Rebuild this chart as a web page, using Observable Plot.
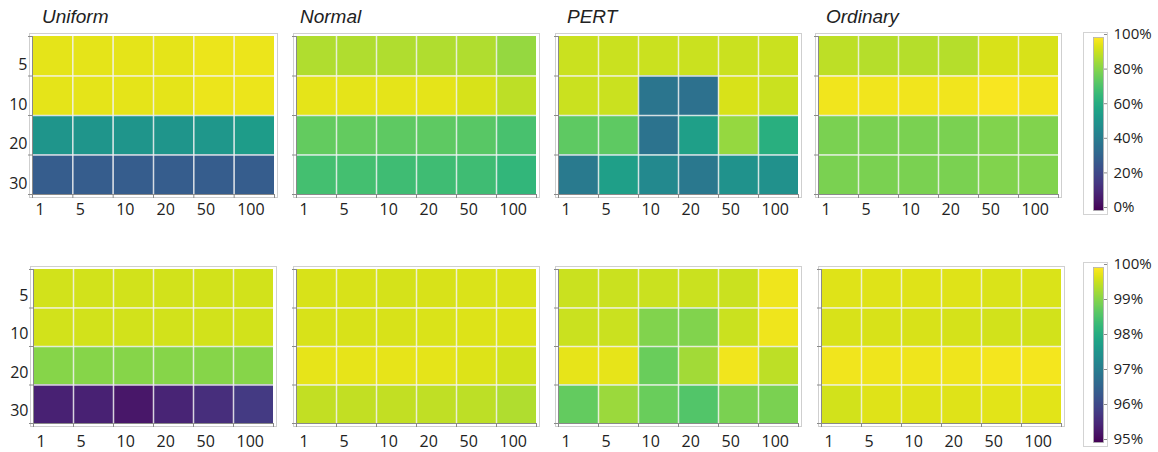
<!DOCTYPE html>
<html>
<head>
<meta charset="utf-8">
<script src="https://cdn.jsdelivr.net/npm/d3@7"></script>
<script src="https://cdn.jsdelivr.net/npm/@observablehq/plot@0.6"></script>
<style>
  html, body { margin: 0; padding: 0; background: #fff; }
  #root { position: relative; width: 1158px; height: 452px; overflow: hidden; background: #fff; }
  .title { position: absolute; font-family: "Liberation Sans", Arial, sans-serif; font-style: italic; font-size: 19px; color: #222; }
  .abs { position: absolute; }
</style>
</head>
<body>
<div id="root"></div>
<script>
// ---- data ----
const colLabels = ["1", "5", "10", "20", "50", "100"];
const rowLabels = ["5", "10", "20", "30"];
const titles = ["Uniform", "Normal", "PERT", "Ordinary"];

// top row: values in % (scale 0–100)
const uniformTop = [
  [96, 96, 96, 96, 97, 97],
  [96, 96, 96, 96, 97, 97],
  [52, 52, 52, 52, 53, 55],
  [29, 29, 29, 29, 29, 29]
];
const normalTop = [
  [88, 88, 88, 88, 88, 84],
  [96, 96, 96, 96, 94, 90],
  [76, 76, 75, 75, 74, 71],
  [70, 70, 69, 69, 69, 66]
];
const pertTop = [
  [92, 92, 92, 92, 92, 92],
  [92, 92, 39, 37, 94, 92],
  [75, 75, 38, 56, 84, 63],
  [41, 56, 47, 40, 51, 50]
];
const ordinaryTop = [
  [90, 89, 89, 89, 94, 94],
  [98, 98, 98, 98, 99, 98],
  [80, 80, 80, 80, 81, 81],
  [80, 80, 80, 80, 81, 81]
];

// bottom row: values in % (scale 95–100)
const uniformBottom = [
  [99.65, 99.65, 99.65, 99.65, 99.65, 99.65],
  [99.65, 99.65, 99.65, 99.65, 99.65, 99.65],
  [99.1, 99.1, 99.1, 99.1, 99.1, 99.1],
  [95.45, 95.45, 95.3, 95.5, 95.65, 95.85]
];
const normalBottom = [
  [99.7, 99.7, 99.68, 99.7, 99.72, 99.72],
  [99.7, 99.7, 99.7, 99.72, 99.74, 99.74],
  [99.82, 99.82, 99.82, 99.8, 99.74, 99.65],
  [99.55, 99.55, 99.55, 99.52, 99.5, 99.4]
];
const pertBottom = [
  [99.6, 99.6, 99.6, 99.6, 99.6, 99.88],
  [99.6, 99.6, 99.05, 99.05, 99.6, 99.88],
  [99.82, 99.82, 98.85, 99.3, 99.9, 99.5],
  [98.8, 99.25, 98.85, 98.65, 99.0, 99.0]
];
const ordinaryBottom = [
  [99.75, 99.75, 99.75, 99.75, 99.72, 99.72],
  [99.7, 99.7, 99.7, 99.68, 99.65, 99.65],
  [99.9, 99.88, 99.88, 99.88, 99.92, 99.92],
  [99.65, 99.75, 99.75, 99.75, 99.78, 99.78]
];

const topDomain = [0, 100];
const bottomDomain = [95, 100];
const topTicks = [0, 20, 40, 60, 80, 100];
const bottomTicks = [95, 96, 97, 98, 99, 100];

// ---- layout ----
const root = document.getElementById("root");
const ML = 34, MT = 6, MR = 6, MB = 28;
const font = '"Open Sans", "Noto Sans", sans-serif';

function place(node, left, top) {
  node.classList.add("abs");
  node.style.left = left + "px";
  node.style.top = top + "px";
  root.appendChild(node);
}

function heat(values, domain, cellLeft, cellTop, cellW, cellH, showY, xdy, ydy) {
  const data = [];
  values.forEach((row, i) => row.forEach((v, j) => data.push({i, j, v})));
  const marks = [
    Plot.frame({stroke: "#cfcfcf", strokeWidth: 1, inset: -3}),
    Plot.rect(data, {x1: d => d.j, x2: d => d.j + 1, y1: d => d.i, y2: d => d.i + 1, fill: "v"}),
    Plot.ruleX([1, 2, 3, 4, 5], {y1: 0, y2: 4, stroke: "#f2f2f2", strokeOpacity: 0.85, strokeWidth: 1.5}),
    Plot.ruleY([1, 2, 3], {x1: 0, x2: 6, stroke: "#f2f2f2", strokeOpacity: 0.85, strokeWidth: 1.5}),
    Plot.ruleX([0], {y1: 0, y2: 4, stroke: "#8a8a8a"}),
    Plot.ruleY([4], {x1: 0, x2: 6, stroke: "#8a8a8a"}),
    Plot.axisX({ticks: [0, 1, 2, 3, 4, 5, 6], tickSize: 4, tickFormat: () => "", stroke: "#8a8a8a", label: null}),
    Plot.axisY({ticks: [0, 1, 2, 3, 4], tickSize: 4, tickFormat: () => "", stroke: "#8a8a8a", label: null}),
    Plot.text(colLabels, {x: (d, i) => i, y: 4, text: d => d, textAnchor: "start", dx: 3, dy: xdy, fill: "#222"})
  ];
  if (showY) {
    marks.push(Plot.text(rowLabels, {x: 0, y: (d, i) => i + 0.5, text: d => d, textAnchor: "end", dx: -5, dy: ydy, fill: "#222"}));
  }
  const svg = Plot.plot({
    width: ML + cellW + MR,
    height: MT + cellH + MB,
    marginLeft: ML, marginTop: MT, marginRight: MR, marginBottom: MB,
    x: {type: "linear", domain: [0, 6], axis: null},
    y: {type: "linear", domain: [0, 4], reverse: true, axis: null},
    color: {type: "linear", scheme: "viridis", domain},
    style: {fontSize: "16px", fontFamily: font, background: "transparent", overflow: "visible"},
    marks
  });
  place(svg, cellLeft - ML, cellTop - MT);
}

function colorbar(domain, ticks, barLeft, barTop, barH) {
  const mL = 12, mT = 8, mR = 50, mB = 8, barW = 10;
  const svg = Plot.plot({
    width: mL + barW + mR,
    height: mT + barH + mB,
    marginLeft: mL, marginTop: mT, marginRight: mR, marginBottom: mB,
    x: {type: "linear", domain: [0, 1], axis: null},
    y: {type: "linear", domain, axis: null},
    color: {type: "linear", scheme: "viridis", domain},
    style: {fontSize: "15px", fontFamily: font, background: "transparent", overflow: "visible"},
    marks: [
      Plot.frame({stroke: "#d3d3d3", insetLeft: -10, insetRight: -4, insetTop: -5, insetBottom: -4}),
      Plot.raster({x1: 0, x2: 1, y1: domain[0], y2: domain[1], fill: (x, y) => y, pixelSize: 1, imageRendering: "auto"}),
      Plot.frame({stroke: "#b0b0b0", strokeWidth: 0.8}),
      Plot.axisY({anchor: "right", ticks, tickSize: 3, tickPadding: 7, tickFormat: d => d + "%", stroke: "#8a8a8a", fill: "#222", dy: -3, label: null})
    ]
  });
  place(svg, barLeft - mL, barTop - mT);
}

// titles
const titleX = [42, 300, 567, 826];
titles.forEach((t, k) => {
  const d = document.createElement("div");
  d.className = "title";
  d.textContent = t;
  d.style.left = titleX[k] + "px";
  d.style.top = "6px";
  root.appendChild(d);
});

// top row
const topLefts = [32, 296, 558, 818];
const topVals = [uniformTop, normalTop, pertTop, ordinaryTop];
topVals.forEach((v, k) => heat(v, topDomain, topLefts[k], 36, k === 0 ? 242 : 240, 158, k === 0, 15, 9));

// bottom row
const botLefts = [33, 296, 558, 821];
const botVals = [uniformBottom, normalBottom, pertBottom, ordinaryBottom];
botVals.forEach((v, k) => heat(v, bottomDomain, botLefts[k], 269, 240, 154, k === 0, 18, 7));

colorbar(topDomain, topTicks, 1093, 37, 173);
colorbar(bottomDomain, bottomTicks, 1093, 267, 175);
</script>
</body>
</html>
